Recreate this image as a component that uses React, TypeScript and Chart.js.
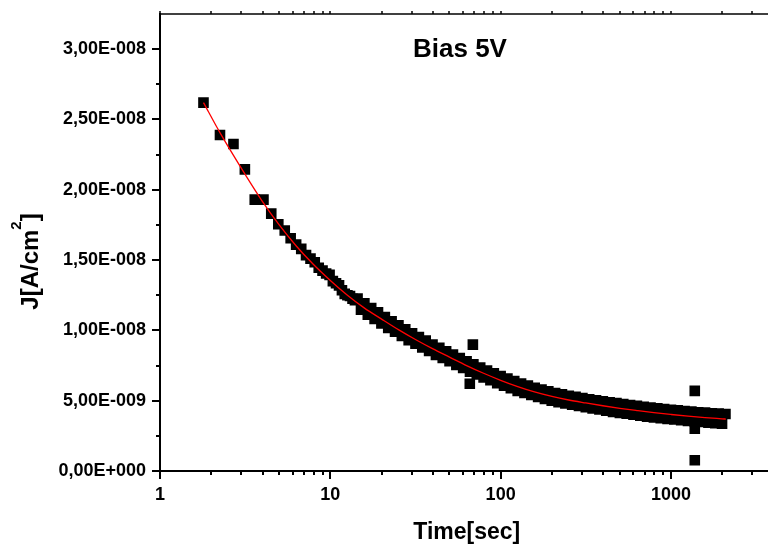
import React, { useEffect, useRef } from 'react';
import { Chart, registerables } from 'chart.js';

Chart.register(...registerables);

const FONT = '"Liberation Sans", Arial, Helvetica, sans-serif';
const UNIT = 1e-9; // current values below are in units of 1E-009 A/cm²

// Early measured points (time in s, J in 1E-009 A/cm²)
const earlyTime = [1.8, 2.25, 2.7, 3.15, 3.6, 4.05, 4.5, 4.95, 5.4, 5.85, 6.3, 6.75, 7.2, 7.65, 8.1, 8.55, 9.0, 9.45, 9.9, 10.35, 10.8, 11.25, 11.7, 12.15, 12.6, 13.05, 13.5, 13.95];
const earlyJ = [26.2, 23.9, 23.25, 21.45, 19.3, 19.3, 18.3, 17.55, 17.1, 16.55, 16.1, 15.8, 15.35, 15.1, 14.85, 14.45, 14.25, 14.05, 13.95, 13.5, 13.35, 13.2, 12.85, 12.6, 12.5, 12.45, 12.25, 12.15];

// Middle part of the decay
const midTime = [14.45, 15.14, 15.85, 16.6, 17.38, 18.2, 19.05, 19.95, 20.9, 21.88, 22.9, 23.99, 25.12, 26.3, 27.54, 28.84, 30.2, 31.62, 33.11, 34.67, 36.31, 38.02, 39.81, 41.69, 43.65, 45.71, 47.86, 50.12, 52.48, 54.95, 57.54, 60.26, 63.1, 66.07, 69.18, 72.44, 75.86, 79.43, 83.18, 87.1, 91.2, 95.5, 100, 104.7, 109.6, 114.8, 120.2, 125.9, 131.8, 138, 144.5, 151.4, 158.5, 166, 173.8, 182, 190.5];
const midJ = [12.26, 11.48, 11.92, 11.12, 11.58, 10.82, 11.28, 10.5, 10.95, 10.18, 10.65, 9.9, 10.37, 9.61, 10.07, 9.31, 9.79, 9.05, 9.52, 8.79, 9.28, 8.53, 9.0, 8.26, 8.76, 8.04, 8.52, 7.8, 8.28, 7.54, 8.04, 7.32, 7.8, 7.07, 7.58, 6.87, 7.36, 6.65, 7.15, 6.45, 6.95, 6.25, 6.75, 6.06, 6.57, 5.88, 6.39, 5.7, 6.22, 5.55, 6.07, 5.4, 5.92, 5.26, 5.79, 5.13, 5.66];

// Late part (long-time plateau)
const lateTime = [199.5, 208.9, 218.8, 229.1, 239.9, 251.2, 263, 275.4, 288.4, 302, 316.2, 331.1, 346.7, 363.1, 380.2, 398.1, 416.9, 436.5, 457.1, 478.6, 501.2, 524.8, 549.5, 575.4, 602.6, 631, 660.7, 691.8, 724.4, 758.6, 794.3, 831.8, 871, 912, 955, 1000, 1047, 1096, 1148, 1202, 1259, 1318, 1380, 1445, 1514, 1585, 1660, 1738, 1820, 1905, 1995, 2089];
const lateJ = [5.0, 5.55, 4.9, 5.45, 4.8, 5.35, 4.71, 5.27, 4.62, 5.18, 4.54, 5.1, 4.45, 5.03, 4.37, 4.95, 4.28, 4.89, 4.2, 4.83, 4.13, 4.76, 4.07, 4.69, 4.0, 4.63, 3.93, 4.57, 3.87, 4.52, 3.81, 4.46, 3.75, 4.41, 3.71, 4.36, 3.66, 4.31, 3.61, 4.26, 3.56, 4.22, 3.52, 4.18, 3.48, 4.15, 3.44, 4.11, 3.4, 4.08, 3.36, 4.05];

// Isolated outliers
const outlierTime = [65.9, 68.7, 1380, 1380, 1380];
const outlierJ = [6.2, 8.99, 5.7, 3.0, 0.76];

// Red fit curve
const fitTime = [1.8, 2.24, 3.16, 3.98, 5.01, 6.31, 7.94, 10, 12.6, 15.8, 20, 25.1, 31.6, 39.8, 50.1, 63.1, 79.4, 100, 126, 158, 200, 251, 316, 398, 501, 631, 794, 1000, 1259, 1585, 1995, 2100];
const fitJ = [26.2, 24.1, 21.1, 19.2, 17.5, 16.0, 14.7, 13.55, 12.5, 11.6, 10.8, 10.05, 9.35, 8.7, 8.1, 7.5, 6.95, 6.45, 6.0, 5.62, 5.3, 5.05, 4.84, 4.64, 4.46, 4.3, 4.15, 4.02, 3.9, 3.8, 3.71, 3.69];

// Axes
const xMin = 1;
const xMax = 4000;
const xLabelled = [1, 10, 100, 1000];
const yMax = 32.5; // in 1E-009
const yStep = 5;
const yMinor = [2.5, 7.5, 12.5, 17.5, 22.5, 27.5];
const yTitleMain = 'J[A/cm';
const yTitleSup = '2';
const yTitleEnd = ']';
const xTitle = 'Time[sec]';
const annotation = 'Bias 5V';

function formatSci(v: number): string {
  if (Math.abs(v) < 1e-20) return '0,00E+000';
  const [m, e] = v.toExponential(2).split('e');
  const en = parseInt(e, 10);
  return m.replace('.', ',') + 'E' + (en < 0 ? '-' : '+') + String(Math.abs(en)).padStart(3, '0');
}

function toPoints(t: number[], j: number[]) {
  return t.map((x, i) => ({ x, y: j[i] * UNIT }));
}

const originPlugin = {
  id: 'originStyle',
  afterDraw(chart: any) {
    const { ctx, chartArea: a, scales } = chart;
    const xs = scales.x;
    const ys = scales.y;
    ctx.save();
    ctx.strokeStyle = '#000';
    ctx.fillStyle = '#000';
    ctx.lineCap = 'butt';

    // frame lines
    ctx.lineWidth = 2;
    ctx.beginPath();
    ctx.moveTo(a.left, a.top - 1);
    ctx.lineTo(a.left, a.bottom);
    ctx.moveTo(a.left - 1, a.bottom);
    ctx.lineTo(a.right, a.bottom);
    ctx.stroke();
    ctx.lineWidth = 1.5;
    ctx.beginPath();
    ctx.moveTo(a.left, a.top);
    ctx.lineTo(a.right, a.top);
    ctx.stroke();

    // x ticks (bottom outward, top small)
    for (let d = 1; d <= 1000; d *= 10) {
      for (let k = 1; k <= 9; k++) {
        const v = k * d;
        if (v < xMin || v > xMax) continue;
        const px = Math.round(xs.getPixelForValue(v));
        const major = k === 1;
        ctx.lineWidth = 2;
        ctx.beginPath();
        ctx.moveTo(px, a.bottom);
        ctx.lineTo(px, a.bottom + (major ? 8 : 4));
        ctx.stroke();
        ctx.lineWidth = 1.5;
        ctx.beginPath();
        ctx.moveTo(px, a.top);
        ctx.lineTo(px, a.top - 3);
        ctx.stroke();
      }
    }
    // y ticks (left outward)
    ctx.lineWidth = 2;
    for (let v = 0; v <= 30; v += yStep) {
      const py = Math.round(ys.getPixelForValue(v * UNIT));
      ctx.beginPath();
      ctx.moveTo(a.left, py);
      ctx.lineTo(a.left - 8, py);
      ctx.stroke();
    }
    for (const v of yMinor) {
      const py = Math.round(ys.getPixelForValue(v * UNIT));
      ctx.beginPath();
      ctx.moveTo(a.left, py);
      ctx.lineTo(a.left - 4, py);
      ctx.stroke();
    }

    // y axis title with superscript
    const mainFont = `bold 24px ${FONT}`;
    const supFont = `bold 15px ${FONT}`;
    ctx.font = mainFont;
    const w1 = ctx.measureText(yTitleMain).width;
    const w3 = ctx.measureText(yTitleEnd).width;
    ctx.font = supFont;
    const w2 = ctx.measureText(yTitleSup).width;
    const total = w1 + w2 + w3;
    ctx.translate(38, (a.top + a.bottom) / 2 + 19);
    ctx.rotate(-Math.PI / 2);
    ctx.textBaseline = 'alphabetic';
    ctx.textAlign = 'left';
    let cx = -total / 2;
    ctx.font = mainFont;
    ctx.fillText(yTitleMain, cx, 0);
    cx += w1;
    ctx.font = supFont;
    ctx.fillText(yTitleSup, cx, -17);
    cx += w2;
    ctx.font = mainFont;
    ctx.fillText(yTitleEnd, cx, 0);
    ctx.setTransform(1, 0, 0, 1, 0, 0);

    // annotation inside plot
    ctx.font = `bold 26px ${FONT}`;
    ctx.textAlign = 'left';
    ctx.textBaseline = 'alphabetic';
    ctx.fillText(annotation, a.left + 253, a.top + 43);
    ctx.restore();
  },
};

export default function App() {
  const canvasRef = useRef<HTMLCanvasElement | null>(null);

  useEffect(() => {
    if (!canvasRef.current) return;
    const points = [
      ...toPoints(earlyTime, earlyJ),
      ...toPoints(midTime, midJ),
      ...toPoints(lateTime, lateJ),
      ...toPoints(outlierTime, outlierJ),
    ];
    const fit = toPoints(fitTime, fitJ);

    const chart = new Chart(canvasRef.current, {
      type: 'scatter',
      data: {
        datasets: [
          {
            label: 'Fit',
            data: fit,
            showLine: true,
            borderColor: '#ff0000',
            borderWidth: 1.3,
            pointRadius: 0,
            cubicInterpolationMode: 'monotone',
            order: 0,
          } as any,
          {
            label: 'J',
            data: points,
            pointStyle: 'rect',
            pointRadius: 7.5,
            backgroundColor: '#000000',
            borderColor: '#000000',
            borderWidth: 0,
            order: 1,
          } as any,
        ],
      },
      options: {
        responsive: false,
        animation: false,
        devicePixelRatio: 1,
        layout: { padding: { top: 14, left: 0, right: 0, bottom: 0 } },
        plugins: { legend: { display: false }, tooltip: { enabled: false } },
        scales: {
          x: {
            type: 'logarithmic',
            min: xMin,
            max: xMax,
            grid: { display: false, drawTicks: false },
            border: { display: false },
            ticks: {
              autoSkip: false,
              maxRotation: 0,
              minRotation: 0,
              padding: 13,
              color: '#000',
              font: { family: FONT, size: 18, weight: 'bold' },
              callback: (v: any) => (xLabelled.includes(Number(v)) ? String(v) : ''),
            },
            title: {
              display: true,
              text: xTitle,
              color: '#000',
              font: { family: FONT, size: 23, weight: 'bold' },
              padding: { top: 0, bottom: -2 },
            },
            afterFit: (s: any) => {
              s.height = 73;
              s.paddingLeft = 0;
              s.paddingRight = 0;
            },
          },
          y: {
            min: 0,
            max: yMax * UNIT,
            grid: { display: false, drawTicks: false },
            border: { display: false },
            ticks: {
              stepSize: yStep * UNIT,
              includeBounds: false,
              padding: 14,
              color: '#000',
              font: { family: FONT, size: 18, weight: 'bold' },
              callback: (v: any) => formatSci(Number(v)),
            },
            afterFit: (s: any) => {
              s.width = 160;
              s.paddingTop = 0;
              s.paddingBottom = 0;
            },
          },
        },
      } as any,
      plugins: [originPlugin],
    });
    return () => chart.destroy();
  }, []);

  return (
    <div style={{ position: 'fixed', left: 0, top: 0, width: 768, height: 544, overflow: 'hidden', background: '#fff' }}>
      <canvas ref={canvasRef} width={781} height={544} style={{ display: 'block' }} />
    </div>
  );
}
